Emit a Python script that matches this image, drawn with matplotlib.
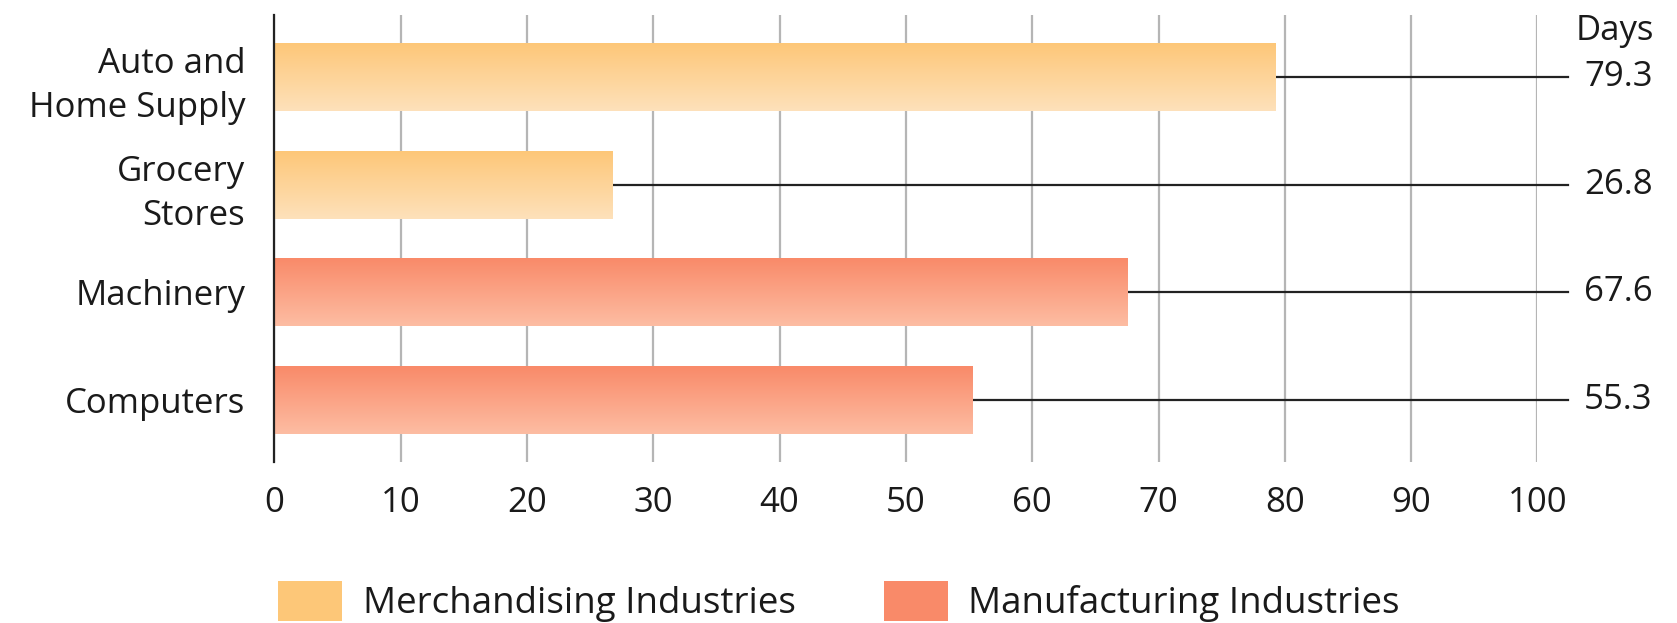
import matplotlib
matplotlib.use("Agg")
import matplotlib.pyplot as plt
from matplotlib.patches import Patch
import numpy as np

categories = ["Computers", "Machinery", "Grocery\nStores", "Auto and\nHome Supply"]
days = [55.3, 67.6, 26.8, 79.3]
groups = ["Manufacturing", "Manufacturing", "Merchandising", "Merchandising"]
legend_labels = ["Merchandising Industries", "Manufacturing Industries"]
xticks = [0, 10, 20, 30, 40, 50, 60, 70, 80, 90, 100]

plt.rcParams['font.family'] = ['Open Sans', 'DejaVu Sans']
fs = 25

colors = {
    "Merchandising": ("#fdc778", "#fee1bb"),
    "Manufacturing": ("#f98a69", "#fdbda3"),
}


def grad_cmap(top, bottom):
    from matplotlib.colors import LinearSegmentedColormap
    return LinearSegmentedColormap.from_list("g", [bottom, top])


fig = plt.figure(figsize=(16.77, 6.23), dpi=100)
ax = fig.add_axes([0.1636, 0.2584, 0.9168 - 0.1636, 0.9759 - 0.2584])

ypos = np.arange(len(categories))
bars = ax.barh(ypos, days, height=0.63, color="none", edgecolor="none", zorder=3)

grad = np.linspace(0, 1, 256).reshape(-1, 1)
for b, g in zip(bars, groups):
    x0, y0 = b.get_x(), b.get_y()
    w, h = b.get_width(), b.get_height()
    im = ax.imshow(grad, cmap=grad_cmap(*colors[g]), aspect="auto",
                   extent=[x0, x0 + w, y0, y0 + h], origin="lower", zorder=3)
    im.set_clip_path(b)

# leader lines and value labels
for y, v in zip(ypos, days):
    ax.plot([v, 102.4], [y, y], color="#222222", lw=1.6, zorder=2, clip_on=False)
    ax.text(106.4, y, f"{v:.1f}", ha="center", va="center", fontsize=fs,
            color="#1a1a1a", clip_on=False)

ax.text(106.1, 3.43, "Days", ha="center", va="center", fontsize=fs, color="#1a1a1a")

ax.set_xlim(0, 100)
ax.set_ylim(-0.576, 3.576)
ax.set_xticks(xticks)
ax.set_yticks(ypos)
ax.set_yticklabels(categories, fontsize=fs, color="#1a1a1a", linespacing=1.4)
ax.tick_params(axis="x", length=0, pad=17, labelsize=fs, labelcolor="#1a1a1a")
ax.tick_params(axis="y", length=0, pad=21)

ax.grid(axis="x", color="#b5b5b5", lw=1.6, zorder=1)
ax.set_axisbelow(True)
for s in ["top", "right", "bottom"]:
    ax.spines[s].set_visible(False)
ax.spines["left"].set_color("#222222")
ax.spines["left"].set_linewidth(1.6)
ax.spines["left"].set_zorder(4)

handles = [Patch(facecolor=colors["Merchandising"][0], edgecolor="none"),
           Patch(facecolor=colors["Manufacturing"][0], edgecolor="none")]
fig.legend(handles, legend_labels, loc="center left", bbox_to_anchor=(0.146, 0.035),
           ncol=2, frameon=False, fontsize=26.5, handlelength=1.75, handleheight=1.3,
           handletextpad=0.55, columnspacing=2.4, labelcolor="#1a1a1a")

fig.savefig("out.png", dpi=100)
